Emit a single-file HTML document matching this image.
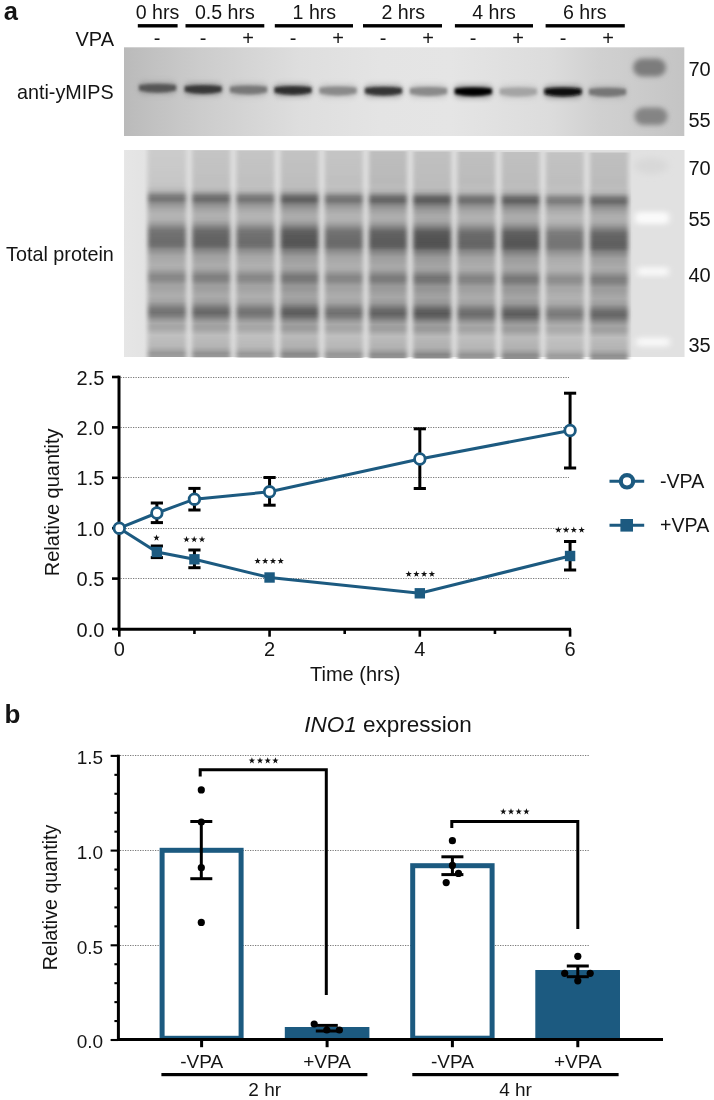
<!DOCTYPE html>
<html><head><meta charset="utf-8"><style>
html,body{margin:0;padding:0;background:#fff;}
svg{display:block;will-change:transform;}
text{font-family:"Liberation Sans",sans-serif;fill:#141414;}
</style></head><body>
<svg width="714" height="1100" viewBox="0 0 714 1100">
<defs><linearGradient id="g1" x1="124" x2="684" y1="0" y2="0" gradientUnits="userSpaceOnUse"><stop offset="0.0000" stop-color="#bababa"/><stop offset="0.0196" stop-color="#bdbdbd"/><stop offset="0.1357" stop-color="#cccccc"/><stop offset="0.3143" stop-color="#dedede"/><stop offset="0.4571" stop-color="#e4e4e4"/><stop offset="0.5821" stop-color="#e5e5e5"/><stop offset="0.7607" stop-color="#dcdcdc"/><stop offset="0.8500" stop-color="#d0d0d0"/><stop offset="0.8857" stop-color="#cecece"/><stop offset="1.0000" stop-color="#c4c4c4"/></linearGradient>
<filter id="bb1" x="-30%" y="-150%" width="160%" height="400%"><feGaussianBlur stdDeviation="1.6 1.8"/></filter>
<filter id="bb2" x="-30%" y="-150%" width="160%" height="400%"><feGaussianBlur stdDeviation="2.5 2.5"/></filter>
<filter id="bm" x="-80%" y="-150%" width="260%" height="400%"><feGaussianBlur stdDeviation="3.5 3"/></filter>
<linearGradient id="g2l" x1="124" x2="150" y1="0" y2="0" gradientUnits="userSpaceOnUse"><stop offset="0" stop-color="#e6e6e6"/><stop offset="0.8" stop-color="#e3e3e3"/><stop offset="1" stop-color="#dedede" stop-opacity="0"/></linearGradient>
<linearGradient id="g2bg" x1="0" x2="0" y1="150" y2="357" gradientUnits="userSpaceOnUse"><stop offset="0.0000" stop-color="#dedede"/><stop offset="0.0966" stop-color="#dedede"/><stop offset="0.1739" stop-color="#dedede"/><stop offset="0.1932" stop-color="#dbdbdb"/><stop offset="0.2077" stop-color="#d9d9d9"/><stop offset="0.2198" stop-color="#d7d7d7"/><stop offset="0.2333" stop-color="#d6d6d6"/><stop offset="0.2425" stop-color="#d6d6d6"/><stop offset="0.2531" stop-color="#d7d7d7"/><stop offset="0.2657" stop-color="#d8d8d8"/><stop offset="0.2850" stop-color="#dadada"/><stop offset="0.3058" stop-color="#dadada"/><stop offset="0.3188" stop-color="#dbdbdb"/><stop offset="0.3362" stop-color="#dadada"/><stop offset="0.3541" stop-color="#d9d9d9"/><stop offset="0.3715" stop-color="#d7d7d7"/><stop offset="0.3889" stop-color="#d6d6d6"/><stop offset="0.4068" stop-color="#d5d5d5"/><stop offset="0.4242" stop-color="#d5d5d5"/><stop offset="0.4420" stop-color="#d5d5d5"/><stop offset="0.4589" stop-color="#d5d5d5"/><stop offset="0.4686" stop-color="#d6d6d6"/><stop offset="0.4768" stop-color="#d7d7d7"/><stop offset="0.4947" stop-color="#d8d8d8"/><stop offset="0.5121" stop-color="#dadada"/><stop offset="0.5295" stop-color="#dadada"/><stop offset="0.5556" stop-color="#dadada"/><stop offset="0.5734" stop-color="#dadada"/><stop offset="0.5913" stop-color="#d8d8d8"/><stop offset="0.6087" stop-color="#d7d7d7"/><stop offset="0.6261" stop-color="#d7d7d7"/><stop offset="0.6353" stop-color="#d8d8d8"/><stop offset="0.6522" stop-color="#d9d9d9"/><stop offset="0.6700" stop-color="#d9d9d9"/><stop offset="0.6879" stop-color="#dadada"/><stop offset="0.7053" stop-color="#dadada"/><stop offset="0.7319" stop-color="#d9d9d9"/><stop offset="0.7488" stop-color="#d8d8d8"/><stop offset="0.7667" stop-color="#d6d6d6"/><stop offset="0.7845" stop-color="#d5d5d5"/><stop offset="0.8019" stop-color="#d6d6d6"/><stop offset="0.8193" stop-color="#d8d8d8"/><stop offset="0.8372" stop-color="#dadada"/><stop offset="0.8502" stop-color="#dadada"/><stop offset="0.8633" stop-color="#dadada"/><stop offset="0.8947" stop-color="#dcdcdc"/><stop offset="0.9208" stop-color="#dbdbdb"/><stop offset="0.9469" stop-color="#dbdbdb"/><stop offset="0.9671" stop-color="#dadada"/><stop offset="0.9802" stop-color="#d8d8d8"/><stop offset="1.0000" stop-color="#d9d9d9"/></linearGradient>
<filter id="lb" x="-20%" y="-5%" width="140%" height="110%"><feGaussianBlur stdDeviation="2.0 0.5"/></filter>
<linearGradient id="lg0" x1="0" x2="0" y1="150" y2="357" gradientUnits="userSpaceOnUse"><stop offset="0.0000" stop-color="#cccccc"/><stop offset="0.0483" stop-color="#cacaca"/><stop offset="0.0966" stop-color="#c9c9c9"/><stop offset="0.1449" stop-color="#c7c7c7"/><stop offset="0.1739" stop-color="#c4c4c4"/><stop offset="0.1932" stop-color="#b8b8b8"/><stop offset="0.2077" stop-color="#9e9e9e"/><stop offset="0.2198" stop-color="#828282"/><stop offset="0.2333" stop-color="#767676"/><stop offset="0.2425" stop-color="#787878"/><stop offset="0.2531" stop-color="#888888"/><stop offset="0.2657" stop-color="#989898"/><stop offset="0.2850" stop-color="#a8a8a8"/><stop offset="0.3058" stop-color="#b2b2b2"/><stop offset="0.3188" stop-color="#b4b4b4"/><stop offset="0.3362" stop-color="#b0b0b0"/><stop offset="0.3541" stop-color="#a0a0a0"/><stop offset="0.3715" stop-color="#8a8a8a"/><stop offset="0.3889" stop-color="#767676"/><stop offset="0.4068" stop-color="#707070"/><stop offset="0.4242" stop-color="#6e6e6e"/><stop offset="0.4420" stop-color="#6c6c6c"/><stop offset="0.4589" stop-color="#707070"/><stop offset="0.4686" stop-color="#7a7a7a"/><stop offset="0.4768" stop-color="#888888"/><stop offset="0.4947" stop-color="#989898"/><stop offset="0.5121" stop-color="#a6a6a6"/><stop offset="0.5295" stop-color="#aaaaaa"/><stop offset="0.5556" stop-color="#b0b0b0"/><stop offset="0.5734" stop-color="#aaaaaa"/><stop offset="0.5913" stop-color="#989898"/><stop offset="0.6087" stop-color="#888888"/><stop offset="0.6261" stop-color="#8a8a8a"/><stop offset="0.6353" stop-color="#929292"/><stop offset="0.6522" stop-color="#a2a2a2"/><stop offset="0.6700" stop-color="#a4a4a4"/><stop offset="0.6879" stop-color="#aaaaaa"/><stop offset="0.7053" stop-color="#aeaeae"/><stop offset="0.7319" stop-color="#a4a4a4"/><stop offset="0.7488" stop-color="#909090"/><stop offset="0.7667" stop-color="#7a7a7a"/><stop offset="0.7845" stop-color="#727272"/><stop offset="0.8019" stop-color="#808080"/><stop offset="0.8193" stop-color="#989898"/><stop offset="0.8372" stop-color="#aaaaaa"/><stop offset="0.8502" stop-color="#a6a6a6"/><stop offset="0.8633" stop-color="#a8a8a8"/><stop offset="0.8947" stop-color="#c0c0c0"/><stop offset="0.9208" stop-color="#bcbcbc"/><stop offset="0.9469" stop-color="#b8b8b8"/><stop offset="0.9671" stop-color="#a8a8a8"/><stop offset="0.9802" stop-color="#989898"/><stop offset="1.0000" stop-color="#9e9e9e"/></linearGradient>
<linearGradient id="lg1" x1="0" x2="0" y1="150" y2="357" gradientUnits="userSpaceOnUse"><stop offset="0.0000" stop-color="#c5c5c5"/><stop offset="0.0483" stop-color="#c3c3c3"/><stop offset="0.0966" stop-color="#c2c2c2"/><stop offset="0.1449" stop-color="#c0c0c0"/><stop offset="0.1739" stop-color="#c0c0c0"/><stop offset="0.1932" stop-color="#b5b5b5"/><stop offset="0.2077" stop-color="#989898"/><stop offset="0.2198" stop-color="#7a7a7a"/><stop offset="0.2333" stop-color="#6d6d6d"/><stop offset="0.2425" stop-color="#6f6f6f"/><stop offset="0.2531" stop-color="#808080"/><stop offset="0.2657" stop-color="#929292"/><stop offset="0.2850" stop-color="#a3a3a3"/><stop offset="0.3058" stop-color="#aeaeae"/><stop offset="0.3188" stop-color="#b0b0b0"/><stop offset="0.3362" stop-color="#acacac"/><stop offset="0.3541" stop-color="#9a9a9a"/><stop offset="0.3715" stop-color="#828282"/><stop offset="0.3889" stop-color="#6d6d6d"/><stop offset="0.4068" stop-color="#666666"/><stop offset="0.4242" stop-color="#646464"/><stop offset="0.4420" stop-color="#626262"/><stop offset="0.4589" stop-color="#666666"/><stop offset="0.4686" stop-color="#717171"/><stop offset="0.4768" stop-color="#808080"/><stop offset="0.4947" stop-color="#929292"/><stop offset="0.5121" stop-color="#a1a1a1"/><stop offset="0.5295" stop-color="#a5a5a5"/><stop offset="0.5556" stop-color="#acacac"/><stop offset="0.5734" stop-color="#a5a5a5"/><stop offset="0.5913" stop-color="#929292"/><stop offset="0.6087" stop-color="#808080"/><stop offset="0.6261" stop-color="#828282"/><stop offset="0.6353" stop-color="#8b8b8b"/><stop offset="0.6522" stop-color="#9d9d9d"/><stop offset="0.6700" stop-color="#9f9f9f"/><stop offset="0.6879" stop-color="#a5a5a5"/><stop offset="0.7053" stop-color="#aaaaaa"/><stop offset="0.7319" stop-color="#9f9f9f"/><stop offset="0.7488" stop-color="#898989"/><stop offset="0.7667" stop-color="#717171"/><stop offset="0.7845" stop-color="#686868"/><stop offset="0.8019" stop-color="#787878"/><stop offset="0.8193" stop-color="#929292"/><stop offset="0.8372" stop-color="#a5a5a5"/><stop offset="0.8502" stop-color="#a1a1a1"/><stop offset="0.8633" stop-color="#a3a3a3"/><stop offset="0.8947" stop-color="#bdbdbd"/><stop offset="0.9208" stop-color="#b9b9b9"/><stop offset="0.9469" stop-color="#b5b5b5"/><stop offset="0.9671" stop-color="#a3a3a3"/><stop offset="0.9802" stop-color="#929292"/><stop offset="1.0000" stop-color="#989898"/></linearGradient>
<linearGradient id="lg2" x1="0" x2="0" y1="150" y2="357" gradientUnits="userSpaceOnUse"><stop offset="0.0000" stop-color="#c5c5c5"/><stop offset="0.0483" stop-color="#c3c3c3"/><stop offset="0.0966" stop-color="#c2c2c2"/><stop offset="0.1449" stop-color="#c0c0c0"/><stop offset="0.1739" stop-color="#c1c1c1"/><stop offset="0.1932" stop-color="#b8b8b8"/><stop offset="0.2077" stop-color="#9e9e9e"/><stop offset="0.2198" stop-color="#828282"/><stop offset="0.2333" stop-color="#767676"/><stop offset="0.2425" stop-color="#787878"/><stop offset="0.2531" stop-color="#888888"/><stop offset="0.2657" stop-color="#989898"/><stop offset="0.2850" stop-color="#a8a8a8"/><stop offset="0.3058" stop-color="#b2b2b2"/><stop offset="0.3188" stop-color="#b4b4b4"/><stop offset="0.3362" stop-color="#b0b0b0"/><stop offset="0.3541" stop-color="#a0a0a0"/><stop offset="0.3715" stop-color="#8a8a8a"/><stop offset="0.3889" stop-color="#767676"/><stop offset="0.4068" stop-color="#707070"/><stop offset="0.4242" stop-color="#6e6e6e"/><stop offset="0.4420" stop-color="#6c6c6c"/><stop offset="0.4589" stop-color="#707070"/><stop offset="0.4686" stop-color="#7a7a7a"/><stop offset="0.4768" stop-color="#888888"/><stop offset="0.4947" stop-color="#989898"/><stop offset="0.5121" stop-color="#a6a6a6"/><stop offset="0.5295" stop-color="#aaaaaa"/><stop offset="0.5556" stop-color="#b0b0b0"/><stop offset="0.5734" stop-color="#aaaaaa"/><stop offset="0.5913" stop-color="#989898"/><stop offset="0.6087" stop-color="#888888"/><stop offset="0.6261" stop-color="#8a8a8a"/><stop offset="0.6353" stop-color="#929292"/><stop offset="0.6522" stop-color="#a2a2a2"/><stop offset="0.6700" stop-color="#a4a4a4"/><stop offset="0.6879" stop-color="#aaaaaa"/><stop offset="0.7053" stop-color="#aeaeae"/><stop offset="0.7319" stop-color="#a4a4a4"/><stop offset="0.7488" stop-color="#909090"/><stop offset="0.7667" stop-color="#7a7a7a"/><stop offset="0.7845" stop-color="#727272"/><stop offset="0.8019" stop-color="#808080"/><stop offset="0.8193" stop-color="#989898"/><stop offset="0.8372" stop-color="#aaaaaa"/><stop offset="0.8502" stop-color="#a6a6a6"/><stop offset="0.8633" stop-color="#a8a8a8"/><stop offset="0.8947" stop-color="#c0c0c0"/><stop offset="0.9208" stop-color="#bcbcbc"/><stop offset="0.9469" stop-color="#b8b8b8"/><stop offset="0.9671" stop-color="#a8a8a8"/><stop offset="0.9802" stop-color="#989898"/><stop offset="1.0000" stop-color="#9e9e9e"/></linearGradient>
<linearGradient id="lg3" x1="0" x2="0" y1="150" y2="357" gradientUnits="userSpaceOnUse"><stop offset="0.0000" stop-color="#c3c3c3"/><stop offset="0.0483" stop-color="#c1c1c1"/><stop offset="0.0966" stop-color="#c0c0c0"/><stop offset="0.1449" stop-color="#bebebe"/><stop offset="0.1739" stop-color="#bdbdbd"/><stop offset="0.1932" stop-color="#b0b0b0"/><stop offset="0.2077" stop-color="#919191"/><stop offset="0.2198" stop-color="#707070"/><stop offset="0.2333" stop-color="#616161"/><stop offset="0.2425" stop-color="#646464"/><stop offset="0.2531" stop-color="#777777"/><stop offset="0.2657" stop-color="#8a8a8a"/><stop offset="0.2850" stop-color="#9d9d9d"/><stop offset="0.3058" stop-color="#a9a9a9"/><stop offset="0.3188" stop-color="#acacac"/><stop offset="0.3362" stop-color="#a7a7a7"/><stop offset="0.3541" stop-color="#949494"/><stop offset="0.3715" stop-color="#797979"/><stop offset="0.3889" stop-color="#616161"/><stop offset="0.4068" stop-color="#5a5a5a"/><stop offset="0.4242" stop-color="#585858"/><stop offset="0.4420" stop-color="#555555"/><stop offset="0.4589" stop-color="#5a5a5a"/><stop offset="0.4686" stop-color="#666666"/><stop offset="0.4768" stop-color="#777777"/><stop offset="0.4947" stop-color="#8a8a8a"/><stop offset="0.5121" stop-color="#9b9b9b"/><stop offset="0.5295" stop-color="#a0a0a0"/><stop offset="0.5556" stop-color="#a7a7a7"/><stop offset="0.5734" stop-color="#a0a0a0"/><stop offset="0.5913" stop-color="#8a8a8a"/><stop offset="0.6087" stop-color="#777777"/><stop offset="0.6261" stop-color="#797979"/><stop offset="0.6353" stop-color="#838383"/><stop offset="0.6522" stop-color="#969696"/><stop offset="0.6700" stop-color="#989898"/><stop offset="0.6879" stop-color="#a0a0a0"/><stop offset="0.7053" stop-color="#a4a4a4"/><stop offset="0.7319" stop-color="#989898"/><stop offset="0.7488" stop-color="#808080"/><stop offset="0.7667" stop-color="#666666"/><stop offset="0.7845" stop-color="#5c5c5c"/><stop offset="0.8019" stop-color="#6d6d6d"/><stop offset="0.8193" stop-color="#8a8a8a"/><stop offset="0.8372" stop-color="#a0a0a0"/><stop offset="0.8502" stop-color="#9b9b9b"/><stop offset="0.8633" stop-color="#9d9d9d"/><stop offset="0.8947" stop-color="#bababa"/><stop offset="0.9208" stop-color="#b5b5b5"/><stop offset="0.9469" stop-color="#b0b0b0"/><stop offset="0.9671" stop-color="#9d9d9d"/><stop offset="0.9802" stop-color="#8a8a8a"/><stop offset="1.0000" stop-color="#919191"/></linearGradient>
<linearGradient id="lg4" x1="0" x2="0" y1="150" y2="357" gradientUnits="userSpaceOnUse"><stop offset="0.0000" stop-color="#c5c5c5"/><stop offset="0.0483" stop-color="#c3c3c3"/><stop offset="0.0966" stop-color="#c2c2c2"/><stop offset="0.1449" stop-color="#c0c0c0"/><stop offset="0.1739" stop-color="#c1c1c1"/><stop offset="0.1932" stop-color="#b7b7b7"/><stop offset="0.2077" stop-color="#9d9d9d"/><stop offset="0.2198" stop-color="#808080"/><stop offset="0.2333" stop-color="#747474"/><stop offset="0.2425" stop-color="#767676"/><stop offset="0.2531" stop-color="#868686"/><stop offset="0.2657" stop-color="#979797"/><stop offset="0.2850" stop-color="#a7a7a7"/><stop offset="0.3058" stop-color="#b1b1b1"/><stop offset="0.3188" stop-color="#b3b3b3"/><stop offset="0.3362" stop-color="#afafaf"/><stop offset="0.3541" stop-color="#9f9f9f"/><stop offset="0.3715" stop-color="#888888"/><stop offset="0.3889" stop-color="#747474"/><stop offset="0.4068" stop-color="#6e6e6e"/><stop offset="0.4242" stop-color="#6c6c6c"/><stop offset="0.4420" stop-color="#6a6a6a"/><stop offset="0.4589" stop-color="#6e6e6e"/><stop offset="0.4686" stop-color="#787878"/><stop offset="0.4768" stop-color="#868686"/><stop offset="0.4947" stop-color="#979797"/><stop offset="0.5121" stop-color="#a5a5a5"/><stop offset="0.5295" stop-color="#a9a9a9"/><stop offset="0.5556" stop-color="#afafaf"/><stop offset="0.5734" stop-color="#a9a9a9"/><stop offset="0.5913" stop-color="#979797"/><stop offset="0.6087" stop-color="#868686"/><stop offset="0.6261" stop-color="#888888"/><stop offset="0.6353" stop-color="#909090"/><stop offset="0.6522" stop-color="#a1a1a1"/><stop offset="0.6700" stop-color="#a3a3a3"/><stop offset="0.6879" stop-color="#a9a9a9"/><stop offset="0.7053" stop-color="#adadad"/><stop offset="0.7319" stop-color="#a3a3a3"/><stop offset="0.7488" stop-color="#8e8e8e"/><stop offset="0.7667" stop-color="#787878"/><stop offset="0.7845" stop-color="#707070"/><stop offset="0.8019" stop-color="#7e7e7e"/><stop offset="0.8193" stop-color="#979797"/><stop offset="0.8372" stop-color="#a9a9a9"/><stop offset="0.8502" stop-color="#a5a5a5"/><stop offset="0.8633" stop-color="#a7a7a7"/><stop offset="0.8947" stop-color="#bfbfbf"/><stop offset="0.9208" stop-color="#bbbbbb"/><stop offset="0.9469" stop-color="#b7b7b7"/><stop offset="0.9671" stop-color="#a7a7a7"/><stop offset="0.9802" stop-color="#979797"/><stop offset="1.0000" stop-color="#9d9d9d"/></linearGradient>
<linearGradient id="lg5" x1="0" x2="0" y1="150" y2="357" gradientUnits="userSpaceOnUse"><stop offset="0.0000" stop-color="#bebebe"/><stop offset="0.0483" stop-color="#bcbcbc"/><stop offset="0.0966" stop-color="#bbbbbb"/><stop offset="0.1449" stop-color="#b9b9b9"/><stop offset="0.1739" stop-color="#bcbcbc"/><stop offset="0.1932" stop-color="#b2b2b2"/><stop offset="0.2077" stop-color="#949494"/><stop offset="0.2198" stop-color="#747474"/><stop offset="0.2333" stop-color="#666666"/><stop offset="0.2425" stop-color="#696969"/><stop offset="0.2531" stop-color="#7b7b7b"/><stop offset="0.2657" stop-color="#8e8e8e"/><stop offset="0.2850" stop-color="#a0a0a0"/><stop offset="0.3058" stop-color="#ababab"/><stop offset="0.3188" stop-color="#aeaeae"/><stop offset="0.3362" stop-color="#a9a9a9"/><stop offset="0.3541" stop-color="#979797"/><stop offset="0.3715" stop-color="#7d7d7d"/><stop offset="0.3889" stop-color="#666666"/><stop offset="0.4068" stop-color="#606060"/><stop offset="0.4242" stop-color="#5d5d5d"/><stop offset="0.4420" stop-color="#5b5b5b"/><stop offset="0.4589" stop-color="#606060"/><stop offset="0.4686" stop-color="#6b6b6b"/><stop offset="0.4768" stop-color="#7b7b7b"/><stop offset="0.4947" stop-color="#8e8e8e"/><stop offset="0.5121" stop-color="#9e9e9e"/><stop offset="0.5295" stop-color="#a2a2a2"/><stop offset="0.5556" stop-color="#a9a9a9"/><stop offset="0.5734" stop-color="#a2a2a2"/><stop offset="0.5913" stop-color="#8e8e8e"/><stop offset="0.6087" stop-color="#7b7b7b"/><stop offset="0.6261" stop-color="#7d7d7d"/><stop offset="0.6353" stop-color="#878787"/><stop offset="0.6522" stop-color="#999999"/><stop offset="0.6700" stop-color="#9b9b9b"/><stop offset="0.6879" stop-color="#a2a2a2"/><stop offset="0.7053" stop-color="#a7a7a7"/><stop offset="0.7319" stop-color="#9b9b9b"/><stop offset="0.7488" stop-color="#848484"/><stop offset="0.7667" stop-color="#6b6b6b"/><stop offset="0.7845" stop-color="#626262"/><stop offset="0.8019" stop-color="#727272"/><stop offset="0.8193" stop-color="#8e8e8e"/><stop offset="0.8372" stop-color="#a2a2a2"/><stop offset="0.8502" stop-color="#9e9e9e"/><stop offset="0.8633" stop-color="#a0a0a0"/><stop offset="0.8947" stop-color="#bcbcbc"/><stop offset="0.9208" stop-color="#b7b7b7"/><stop offset="0.9469" stop-color="#b2b2b2"/><stop offset="0.9671" stop-color="#a0a0a0"/><stop offset="0.9802" stop-color="#8e8e8e"/><stop offset="1.0000" stop-color="#949494"/></linearGradient>
<linearGradient id="lg6" x1="0" x2="0" y1="150" y2="357" gradientUnits="userSpaceOnUse"><stop offset="0.0000" stop-color="#c1c1c1"/><stop offset="0.0483" stop-color="#bfbfbf"/><stop offset="0.0966" stop-color="#bebebe"/><stop offset="0.1449" stop-color="#bcbcbc"/><stop offset="0.1739" stop-color="#bcbcbc"/><stop offset="0.1932" stop-color="#afafaf"/><stop offset="0.2077" stop-color="#8f8f8f"/><stop offset="0.2198" stop-color="#6c6c6c"/><stop offset="0.2333" stop-color="#5d5d5d"/><stop offset="0.2425" stop-color="#606060"/><stop offset="0.2531" stop-color="#737373"/><stop offset="0.2657" stop-color="#878787"/><stop offset="0.2850" stop-color="#9b9b9b"/><stop offset="0.3058" stop-color="#a7a7a7"/><stop offset="0.3188" stop-color="#aaaaaa"/><stop offset="0.3362" stop-color="#a5a5a5"/><stop offset="0.3541" stop-color="#919191"/><stop offset="0.3715" stop-color="#767676"/><stop offset="0.3889" stop-color="#5d5d5d"/><stop offset="0.4068" stop-color="#565656"/><stop offset="0.4242" stop-color="#535353"/><stop offset="0.4420" stop-color="#515151"/><stop offset="0.4589" stop-color="#565656"/><stop offset="0.4686" stop-color="#626262"/><stop offset="0.4768" stop-color="#737373"/><stop offset="0.4947" stop-color="#878787"/><stop offset="0.5121" stop-color="#999999"/><stop offset="0.5295" stop-color="#9e9e9e"/><stop offset="0.5556" stop-color="#a5a5a5"/><stop offset="0.5734" stop-color="#9e9e9e"/><stop offset="0.5913" stop-color="#878787"/><stop offset="0.6087" stop-color="#737373"/><stop offset="0.6261" stop-color="#767676"/><stop offset="0.6353" stop-color="#808080"/><stop offset="0.6522" stop-color="#949494"/><stop offset="0.6700" stop-color="#969696"/><stop offset="0.6879" stop-color="#9e9e9e"/><stop offset="0.7053" stop-color="#a2a2a2"/><stop offset="0.7319" stop-color="#969696"/><stop offset="0.7488" stop-color="#7d7d7d"/><stop offset="0.7667" stop-color="#626262"/><stop offset="0.7845" stop-color="#585858"/><stop offset="0.8019" stop-color="#696969"/><stop offset="0.8193" stop-color="#878787"/><stop offset="0.8372" stop-color="#9e9e9e"/><stop offset="0.8502" stop-color="#999999"/><stop offset="0.8633" stop-color="#9b9b9b"/><stop offset="0.8947" stop-color="#b9b9b9"/><stop offset="0.9208" stop-color="#b4b4b4"/><stop offset="0.9469" stop-color="#afafaf"/><stop offset="0.9671" stop-color="#9b9b9b"/><stop offset="0.9802" stop-color="#878787"/><stop offset="1.0000" stop-color="#8f8f8f"/></linearGradient>
<linearGradient id="lg7" x1="0" x2="0" y1="150" y2="357" gradientUnits="userSpaceOnUse"><stop offset="0.0000" stop-color="#c0c0c0"/><stop offset="0.0483" stop-color="#bebebe"/><stop offset="0.0966" stop-color="#bdbdbd"/><stop offset="0.1449" stop-color="#bbbbbb"/><stop offset="0.1739" stop-color="#bebebe"/><stop offset="0.1932" stop-color="#b6b6b6"/><stop offset="0.2077" stop-color="#9a9a9a"/><stop offset="0.2198" stop-color="#7c7c7c"/><stop offset="0.2333" stop-color="#707070"/><stop offset="0.2425" stop-color="#727272"/><stop offset="0.2531" stop-color="#838383"/><stop offset="0.2657" stop-color="#949494"/><stop offset="0.2850" stop-color="#a5a5a5"/><stop offset="0.3058" stop-color="#afafaf"/><stop offset="0.3188" stop-color="#b1b1b1"/><stop offset="0.3362" stop-color="#adadad"/><stop offset="0.3541" stop-color="#9c9c9c"/><stop offset="0.3715" stop-color="#858585"/><stop offset="0.3889" stop-color="#707070"/><stop offset="0.4068" stop-color="#696969"/><stop offset="0.4242" stop-color="#676767"/><stop offset="0.4420" stop-color="#656565"/><stop offset="0.4589" stop-color="#696969"/><stop offset="0.4686" stop-color="#747474"/><stop offset="0.4768" stop-color="#838383"/><stop offset="0.4947" stop-color="#949494"/><stop offset="0.5121" stop-color="#a3a3a3"/><stop offset="0.5295" stop-color="#a7a7a7"/><stop offset="0.5556" stop-color="#adadad"/><stop offset="0.5734" stop-color="#a7a7a7"/><stop offset="0.5913" stop-color="#949494"/><stop offset="0.6087" stop-color="#838383"/><stop offset="0.6261" stop-color="#858585"/><stop offset="0.6353" stop-color="#8d8d8d"/><stop offset="0.6522" stop-color="#9e9e9e"/><stop offset="0.6700" stop-color="#a1a1a1"/><stop offset="0.6879" stop-color="#a7a7a7"/><stop offset="0.7053" stop-color="#ababab"/><stop offset="0.7319" stop-color="#a1a1a1"/><stop offset="0.7488" stop-color="#8b8b8b"/><stop offset="0.7667" stop-color="#747474"/><stop offset="0.7845" stop-color="#6c6c6c"/><stop offset="0.8019" stop-color="#7a7a7a"/><stop offset="0.8193" stop-color="#949494"/><stop offset="0.8372" stop-color="#a7a7a7"/><stop offset="0.8502" stop-color="#a3a3a3"/><stop offset="0.8633" stop-color="#a5a5a5"/><stop offset="0.8947" stop-color="#bebebe"/><stop offset="0.9208" stop-color="#bababa"/><stop offset="0.9469" stop-color="#b6b6b6"/><stop offset="0.9671" stop-color="#a5a5a5"/><stop offset="0.9802" stop-color="#949494"/><stop offset="1.0000" stop-color="#9a9a9a"/></linearGradient>
<linearGradient id="lg8" x1="0" x2="0" y1="150" y2="357" gradientUnits="userSpaceOnUse"><stop offset="0.0000" stop-color="#c1c1c1"/><stop offset="0.0483" stop-color="#bfbfbf"/><stop offset="0.0966" stop-color="#bebebe"/><stop offset="0.1449" stop-color="#bcbcbc"/><stop offset="0.1739" stop-color="#bdbdbd"/><stop offset="0.1932" stop-color="#b1b1b1"/><stop offset="0.2077" stop-color="#929292"/><stop offset="0.2198" stop-color="#717171"/><stop offset="0.2333" stop-color="#626262"/><stop offset="0.2425" stop-color="#656565"/><stop offset="0.2531" stop-color="#787878"/><stop offset="0.2657" stop-color="#8b8b8b"/><stop offset="0.2850" stop-color="#9e9e9e"/><stop offset="0.3058" stop-color="#aaaaaa"/><stop offset="0.3188" stop-color="#acacac"/><stop offset="0.3362" stop-color="#a7a7a7"/><stop offset="0.3541" stop-color="#949494"/><stop offset="0.3715" stop-color="#7a7a7a"/><stop offset="0.3889" stop-color="#626262"/><stop offset="0.4068" stop-color="#5b5b5b"/><stop offset="0.4242" stop-color="#595959"/><stop offset="0.4420" stop-color="#565656"/><stop offset="0.4589" stop-color="#5b5b5b"/><stop offset="0.4686" stop-color="#676767"/><stop offset="0.4768" stop-color="#787878"/><stop offset="0.4947" stop-color="#8b8b8b"/><stop offset="0.5121" stop-color="#9b9b9b"/><stop offset="0.5295" stop-color="#a0a0a0"/><stop offset="0.5556" stop-color="#a7a7a7"/><stop offset="0.5734" stop-color="#a0a0a0"/><stop offset="0.5913" stop-color="#8b8b8b"/><stop offset="0.6087" stop-color="#787878"/><stop offset="0.6261" stop-color="#7a7a7a"/><stop offset="0.6353" stop-color="#848484"/><stop offset="0.6522" stop-color="#979797"/><stop offset="0.6700" stop-color="#999999"/><stop offset="0.6879" stop-color="#a0a0a0"/><stop offset="0.7053" stop-color="#a5a5a5"/><stop offset="0.7319" stop-color="#999999"/><stop offset="0.7488" stop-color="#818181"/><stop offset="0.7667" stop-color="#676767"/><stop offset="0.7845" stop-color="#5d5d5d"/><stop offset="0.8019" stop-color="#6e6e6e"/><stop offset="0.8193" stop-color="#8b8b8b"/><stop offset="0.8372" stop-color="#a0a0a0"/><stop offset="0.8502" stop-color="#9b9b9b"/><stop offset="0.8633" stop-color="#9e9e9e"/><stop offset="0.8947" stop-color="#bababa"/><stop offset="0.9208" stop-color="#b6b6b6"/><stop offset="0.9469" stop-color="#b1b1b1"/><stop offset="0.9671" stop-color="#9e9e9e"/><stop offset="0.9802" stop-color="#8b8b8b"/><stop offset="1.0000" stop-color="#929292"/></linearGradient>
<linearGradient id="lg9" x1="0" x2="0" y1="150" y2="357" gradientUnits="userSpaceOnUse"><stop offset="0.0000" stop-color="#c3c3c3"/><stop offset="0.0483" stop-color="#c1c1c1"/><stop offset="0.0966" stop-color="#c0c0c0"/><stop offset="0.1449" stop-color="#bebebe"/><stop offset="0.1739" stop-color="#c1c1c1"/><stop offset="0.1932" stop-color="#bbbbbb"/><stop offset="0.2077" stop-color="#a2a2a2"/><stop offset="0.2198" stop-color="#888888"/><stop offset="0.2333" stop-color="#7d7d7d"/><stop offset="0.2425" stop-color="#7f7f7f"/><stop offset="0.2531" stop-color="#8e8e8e"/><stop offset="0.2657" stop-color="#9d9d9d"/><stop offset="0.2850" stop-color="#acacac"/><stop offset="0.3058" stop-color="#b5b5b5"/><stop offset="0.3188" stop-color="#b7b7b7"/><stop offset="0.3362" stop-color="#b3b3b3"/><stop offset="0.3541" stop-color="#a4a4a4"/><stop offset="0.3715" stop-color="#909090"/><stop offset="0.3889" stop-color="#7d7d7d"/><stop offset="0.4068" stop-color="#787878"/><stop offset="0.4242" stop-color="#767676"/><stop offset="0.4420" stop-color="#747474"/><stop offset="0.4589" stop-color="#787878"/><stop offset="0.4686" stop-color="#818181"/><stop offset="0.4768" stop-color="#8e8e8e"/><stop offset="0.4947" stop-color="#9d9d9d"/><stop offset="0.5121" stop-color="#aaaaaa"/><stop offset="0.5295" stop-color="#aeaeae"/><stop offset="0.5556" stop-color="#b3b3b3"/><stop offset="0.5734" stop-color="#aeaeae"/><stop offset="0.5913" stop-color="#9d9d9d"/><stop offset="0.6087" stop-color="#8e8e8e"/><stop offset="0.6261" stop-color="#909090"/><stop offset="0.6353" stop-color="#979797"/><stop offset="0.6522" stop-color="#a6a6a6"/><stop offset="0.6700" stop-color="#a8a8a8"/><stop offset="0.6879" stop-color="#aeaeae"/><stop offset="0.7053" stop-color="#b1b1b1"/><stop offset="0.7319" stop-color="#a8a8a8"/><stop offset="0.7488" stop-color="#959595"/><stop offset="0.7667" stop-color="#818181"/><stop offset="0.7845" stop-color="#7a7a7a"/><stop offset="0.8019" stop-color="#878787"/><stop offset="0.8193" stop-color="#9d9d9d"/><stop offset="0.8372" stop-color="#aeaeae"/><stop offset="0.8502" stop-color="#aaaaaa"/><stop offset="0.8633" stop-color="#acacac"/><stop offset="0.8947" stop-color="#c2c2c2"/><stop offset="0.9208" stop-color="#bebebe"/><stop offset="0.9469" stop-color="#bbbbbb"/><stop offset="0.9671" stop-color="#acacac"/><stop offset="0.9802" stop-color="#9d9d9d"/><stop offset="1.0000" stop-color="#a2a2a2"/></linearGradient>
<linearGradient id="lg10" x1="0" x2="0" y1="150" y2="357" gradientUnits="userSpaceOnUse"><stop offset="0.0000" stop-color="#c0c0c0"/><stop offset="0.0483" stop-color="#bebebe"/><stop offset="0.0966" stop-color="#bdbdbd"/><stop offset="0.1449" stop-color="#bbbbbb"/><stop offset="0.1739" stop-color="#bdbdbd"/><stop offset="0.1932" stop-color="#b4b4b4"/><stop offset="0.2077" stop-color="#979797"/><stop offset="0.2198" stop-color="#787878"/><stop offset="0.2333" stop-color="#6b6b6b"/><stop offset="0.2425" stop-color="#6d6d6d"/><stop offset="0.2531" stop-color="#7f7f7f"/><stop offset="0.2657" stop-color="#909090"/><stop offset="0.2850" stop-color="#a2a2a2"/><stop offset="0.3058" stop-color="#adadad"/><stop offset="0.3188" stop-color="#afafaf"/><stop offset="0.3362" stop-color="#ababab"/><stop offset="0.3541" stop-color="#999999"/><stop offset="0.3715" stop-color="#818181"/><stop offset="0.3889" stop-color="#6b6b6b"/><stop offset="0.4068" stop-color="#646464"/><stop offset="0.4242" stop-color="#626262"/><stop offset="0.4420" stop-color="#5f5f5f"/><stop offset="0.4589" stop-color="#646464"/><stop offset="0.4686" stop-color="#6f6f6f"/><stop offset="0.4768" stop-color="#7f7f7f"/><stop offset="0.4947" stop-color="#909090"/><stop offset="0.5121" stop-color="#a0a0a0"/><stop offset="0.5295" stop-color="#a4a4a4"/><stop offset="0.5556" stop-color="#ababab"/><stop offset="0.5734" stop-color="#a4a4a4"/><stop offset="0.5913" stop-color="#909090"/><stop offset="0.6087" stop-color="#7f7f7f"/><stop offset="0.6261" stop-color="#818181"/><stop offset="0.6353" stop-color="#8a8a8a"/><stop offset="0.6522" stop-color="#9b9b9b"/><stop offset="0.6700" stop-color="#9e9e9e"/><stop offset="0.6879" stop-color="#a4a4a4"/><stop offset="0.7053" stop-color="#a9a9a9"/><stop offset="0.7319" stop-color="#9e9e9e"/><stop offset="0.7488" stop-color="#878787"/><stop offset="0.7667" stop-color="#6f6f6f"/><stop offset="0.7845" stop-color="#666666"/><stop offset="0.8019" stop-color="#767676"/><stop offset="0.8193" stop-color="#909090"/><stop offset="0.8372" stop-color="#a4a4a4"/><stop offset="0.8502" stop-color="#a0a0a0"/><stop offset="0.8633" stop-color="#a2a2a2"/><stop offset="0.8947" stop-color="#bdbdbd"/><stop offset="0.9208" stop-color="#b8b8b8"/><stop offset="0.9469" stop-color="#b4b4b4"/><stop offset="0.9671" stop-color="#a2a2a2"/><stop offset="0.9802" stop-color="#909090"/><stop offset="1.0000" stop-color="#979797"/></linearGradient>
<filter id="wb" x="-50%" y="-150%" width="200%" height="400%"><feGaussianBlur stdDeviation="3 2.6"/></filter></defs>
<text x="157.5" y="18.5" font-size="19.6" text-anchor="middle">0 hrs</text>
<rect x="137.8" y="24.1" width="39.79999999999998" height="3.4" fill="#000"/>
<text x="224.9" y="18.5" font-size="19.6" text-anchor="middle">0.5 hrs</text>
<rect x="185.5" y="24.1" width="78.80000000000001" height="3.4" fill="#000"/>
<text x="314.4" y="18.5" font-size="19.6" text-anchor="middle">1 hrs</text>
<rect x="274.8" y="24.1" width="78.19999999999999" height="3.4" fill="#000"/>
<text x="403.3" y="18.5" font-size="19.6" text-anchor="middle">2 hrs</text>
<rect x="363" y="24.1" width="79" height="3.4" fill="#000"/>
<text x="494" y="18.5" font-size="19.6" text-anchor="middle">4 hrs</text>
<rect x="454.9" y="24.1" width="78.10000000000002" height="3.4" fill="#000"/>
<text x="584.7" y="18.5" font-size="19.6" text-anchor="middle">6 hrs</text>
<rect x="545.6" y="24.1" width="79.19999999999993" height="3.4" fill="#000"/>
<text x="114" y="46" font-size="20" text-anchor="end">VPA</text>
<text x="157" y="45" font-size="20" text-anchor="middle">-</text>
<text x="203" y="45" font-size="20" text-anchor="middle">-</text>
<text x="248" y="45" font-size="20" text-anchor="middle">+</text>
<text x="293" y="45" font-size="20" text-anchor="middle">-</text>
<text x="338" y="45" font-size="20" text-anchor="middle">+</text>
<text x="383" y="45" font-size="20" text-anchor="middle">-</text>
<text x="428" y="45" font-size="20" text-anchor="middle">+</text>
<text x="473" y="45" font-size="20" text-anchor="middle">-</text>
<text x="518" y="45" font-size="20" text-anchor="middle">+</text>
<text x="563" y="45" font-size="20" text-anchor="middle">-</text>
<text x="608" y="45" font-size="20" text-anchor="middle">+</text>
<text x="3.7" y="20" font-size="25.5" font-weight="bold">a</text>
<text x="113.6" y="98.5" font-size="19.75" text-anchor="end">anti-yMIPS</text>
<text x="113.8" y="260.8" font-size="19.8" text-anchor="end">Total protein</text>
<text x="688.5" y="76.2" font-size="20">70</text>
<text x="688.5" y="126.9" font-size="20">55</text>
<text x="688.5" y="175" font-size="20">70</text>
<text x="688.5" y="226" font-size="20">55</text>
<text x="688.5" y="282" font-size="20">40</text>
<text x="688.5" y="352" font-size="20">35</text>
<rect x="124" y="47.3" width="560.3" height="88.7" fill="url(#g1)"/>
<rect x="138.1" y="81" width="39" height="14" rx="6" fill="#919191" opacity="0.5" filter="url(#bb2)"/>
<path d="M139.1,85 Q157.6,82.5 176.1,85 L176.1,90.5 Q157.6,95 139.1,90.5 Z" fill="#565656" filter="url(#bb1)"/>
<rect x="183.7" y="82.3" width="39" height="14" rx="6" fill="#828282" opacity="0.5" filter="url(#bb2)"/>
<path d="M184.7,86.3 Q203.2,83.8 221.7,86.3 L221.7,91.8 Q203.2,96.3 184.7,91.8 Z" fill="#383838" filter="url(#bb1)"/>
<rect x="229.0" y="82.8" width="39" height="14" rx="6" fill="#a2a2a2" opacity="0.5" filter="url(#bb2)"/>
<path d="M230.0,86.8 Q248.5,84.3 267.0,86.8 L267.0,92.3 Q248.5,96.8 230.0,92.3 Z" fill="#787878" filter="url(#bb1)"/>
<rect x="273.5" y="83.3" width="39" height="14" rx="6" fill="#7d7d7d" opacity="0.5" filter="url(#bb2)"/>
<path d="M274.5,87.3 Q293,84.8 311.5,87.3 L311.5,92.8 Q293,97.3 274.5,92.8 Z" fill="#2e2e2e" filter="url(#bb1)"/>
<rect x="318.5" y="83.7" width="39" height="14" rx="6" fill="#ababab" opacity="0.5" filter="url(#bb2)"/>
<path d="M319.5,87.7 Q338,85.2 356.5,87.7 L356.5,93.2 Q338,97.7 319.5,93.2 Z" fill="#8a8a8a" filter="url(#bb1)"/>
<rect x="364.0" y="84" width="39" height="14" rx="6" fill="#818181" opacity="0.5" filter="url(#bb2)"/>
<path d="M365.0,88 Q383.5,85.5 402.0,88 L402.0,93.5 Q383.5,98 365.0,93.5 Z" fill="#363636" filter="url(#bb1)"/>
<rect x="409.0" y="84.2" width="39" height="14" rx="6" fill="#ababab" opacity="0.5" filter="url(#bb2)"/>
<path d="M410.0,88.2 Q428.5,85.7 447.0,88.2 L447.0,93.7 Q428.5,98.2 410.0,93.7 Z" fill="#8a8a8a" filter="url(#bb1)"/>
<rect x="453.8" y="84.5" width="39" height="14" rx="6" fill="#686868" opacity="0.5" filter="url(#bb2)"/>
<path d="M454.8,88.5 Q473.3,86.0 491.8,88.5 L491.8,94.0 Q473.3,98.5 454.8,94.0 Z" fill="#040404" filter="url(#bb1)"/>
<rect x="498.79999999999995" y="84.7" width="39" height="14" rx="6" fill="#b8b8b8" opacity="0.5" filter="url(#bb2)"/>
<path d="M499.79999999999995,88.7 Q518.3,86.2 536.8,88.7 L536.8,94.2 Q518.3,98.7 499.79999999999995,94.2 Z" fill="#a4a4a4" filter="url(#bb1)"/>
<rect x="543.5" y="84.8" width="39" height="14" rx="6" fill="#6a6a6a" opacity="0.5" filter="url(#bb2)"/>
<path d="M544.5,88.8 Q563,86.3 581.5,88.8 L581.5,94.3 Q563,98.8 544.5,94.3 Z" fill="#080808" filter="url(#bb1)"/>
<rect x="588.0" y="85" width="39" height="14" rx="6" fill="#a1a1a1" opacity="0.5" filter="url(#bb2)"/>
<path d="M589.0,89 Q607.5,86.5 626.0,89 L626.0,94.5 Q607.5,99 589.0,94.5 Z" fill="#767676" filter="url(#bb1)"/>
<rect x="633" y="58.5" width="33" height="18" rx="9" fill="#7c7c7c" filter="url(#bb2)"/>
<rect x="634.5" y="107.5" width="33" height="17.5" rx="9" fill="#848484" filter="url(#bb2)"/>
<rect x="124.3" y="150" width="506.7" height="207" fill="url(#g2bg)"/>
<rect x="631" y="150" width="53.3" height="207" fill="#dedede"/>
<rect x="124.3" y="150" width="26" height="207" fill="url(#g2l)"/>
<rect x="631" y="150" width="53.3" height="207" fill="#e1e1e1"/>
<rect x="148.0" y="150" width="38" height="207" fill="url(#lg0)" filter="url(#lb)" transform="translate(0,0.00)"/>
<rect x="192.2" y="150" width="38" height="207" fill="url(#lg1)" filter="url(#lb)" transform="translate(0,0.25)"/>
<rect x="236.4" y="150" width="38" height="207" fill="url(#lg2)" filter="url(#lb)" transform="translate(0,0.50)"/>
<rect x="280.6" y="150" width="38" height="207" fill="url(#lg3)" filter="url(#lb)" transform="translate(0,0.75)"/>
<rect x="324.8" y="150" width="38" height="207" fill="url(#lg4)" filter="url(#lb)" transform="translate(0,1.00)"/>
<rect x="369.0" y="150" width="38" height="207" fill="url(#lg5)" filter="url(#lb)" transform="translate(0,1.25)"/>
<rect x="413.20000000000005" y="150" width="38" height="207" fill="url(#lg6)" filter="url(#lb)" transform="translate(0,1.50)"/>
<rect x="457.40000000000003" y="150" width="38" height="207" fill="url(#lg7)" filter="url(#lb)" transform="translate(0,1.75)"/>
<rect x="501.6" y="150" width="38" height="207" fill="url(#lg8)" filter="url(#lb)" transform="translate(0,2.00)"/>
<rect x="545.8" y="150" width="38" height="207" fill="url(#lg9)" filter="url(#lb)" transform="translate(0,2.25)"/>
<rect x="590.0" y="150" width="38" height="207" fill="url(#lg10)" filter="url(#lb)" transform="translate(0,2.50)"/>
<ellipse cx="651" cy="166" rx="17" ry="8" fill="#d8d8d8" filter="url(#bm)"/>
<rect x="635" y="212.0" width="34" height="12" rx="4" fill="#ffffff" opacity="0.85" filter="url(#wb)"/>
<rect x="637" y="267.0" width="32" height="9" rx="4" fill="#ffffff" opacity="0.75" filter="url(#wb)"/>
<rect x="636" y="337.5" width="34" height="9" rx="4" fill="#ffffff" opacity="0.75" filter="url(#wb)"/>
<line x1="120.5" y1="578.5" x2="569" y2="578.5" stroke="#7a7a7a" stroke-width="1" stroke-dasharray="1.25 1.25"/>
<line x1="120.5" y1="528.5" x2="569" y2="528.5" stroke="#7a7a7a" stroke-width="1" stroke-dasharray="1.25 1.25"/>
<line x1="120.5" y1="477.5" x2="569" y2="477.5" stroke="#7a7a7a" stroke-width="1" stroke-dasharray="1.25 1.25"/>
<line x1="120.5" y1="427.5" x2="569" y2="427.5" stroke="#7a7a7a" stroke-width="1" stroke-dasharray="1.25 1.25"/>
<line x1="120.5" y1="377.5" x2="569" y2="377.5" stroke="#7a7a7a" stroke-width="1" stroke-dasharray="1.25 1.25"/>
<line x1="119" y1="375.7" x2="119" y2="630.8" stroke="#000" stroke-width="3"/>
<line x1="117.5" y1="629.3" x2="571" y2="629.3" stroke="#000" stroke-width="3"/>
<line x1="112" y1="629.0" x2="119" y2="629.0" stroke="#000" stroke-width="2.6"/>
<text x="104.4" y="636.6" font-size="20" text-anchor="end">0.0</text>
<line x1="112" y1="578.6" x2="119" y2="578.6" stroke="#000" stroke-width="2.6"/>
<text x="104.4" y="586.2" font-size="20" text-anchor="end">0.5</text>
<line x1="112" y1="528.2" x2="119" y2="528.2" stroke="#000" stroke-width="2.6"/>
<text x="104.4" y="535.8000000000001" font-size="20" text-anchor="end">1.0</text>
<line x1="112" y1="477.8" x2="119" y2="477.8" stroke="#000" stroke-width="2.6"/>
<text x="104.4" y="485.40000000000003" font-size="20" text-anchor="end">1.5</text>
<line x1="112" y1="427.4" x2="119" y2="427.4" stroke="#000" stroke-width="2.6"/>
<text x="104.4" y="435.0" font-size="20" text-anchor="end">2.0</text>
<line x1="112" y1="377.0" x2="119" y2="377.0" stroke="#000" stroke-width="2.6"/>
<text x="104.4" y="384.6" font-size="20" text-anchor="end">2.5</text>
<line x1="119.3" y1="629" x2="119.3" y2="636.7" stroke="#000" stroke-width="2.6"/>
<line x1="194.43" y1="629" x2="194.43" y2="634" stroke="#000" stroke-width="2.6"/>
<line x1="269.56" y1="629" x2="269.56" y2="636.7" stroke="#000" stroke-width="2.6"/>
<line x1="344.69" y1="629" x2="344.69" y2="634" stroke="#000" stroke-width="2.6"/>
<line x1="419.82" y1="629" x2="419.82" y2="636.7" stroke="#000" stroke-width="2.6"/>
<line x1="494.95" y1="629" x2="494.95" y2="634" stroke="#000" stroke-width="2.6"/>
<line x1="570.0799999999999" y1="629" x2="570.0799999999999" y2="636.7" stroke="#000" stroke-width="2.6"/>
<text x="119.3" y="656.3" font-size="20" text-anchor="middle">0</text>
<text x="269.56" y="656.3" font-size="20" text-anchor="middle">2</text>
<text x="419.82" y="656.3" font-size="20" text-anchor="middle">4</text>
<text x="570.0799999999999" y="656.3" font-size="20" text-anchor="middle">6</text>
<text x="355.2" y="681" font-size="20" text-anchor="middle">Time (hrs)</text>
<text transform="translate(59,502.3) rotate(-90)" font-size="20" text-anchor="middle">Relative quantity</text>
<line x1="156.865" y1="503" x2="156.865" y2="522.6" stroke="#000" stroke-width="3"/>
<line x1="150.76500000000001" y1="503" x2="162.965" y2="503" stroke="#000" stroke-width="3"/>
<line x1="150.76500000000001" y1="522.6" x2="162.965" y2="522.6" stroke="#000" stroke-width="3"/>
<line x1="194.43" y1="488.4" x2="194.43" y2="510" stroke="#000" stroke-width="3"/>
<line x1="188.33" y1="488.4" x2="200.53" y2="488.4" stroke="#000" stroke-width="3"/>
<line x1="188.33" y1="510" x2="200.53" y2="510" stroke="#000" stroke-width="3"/>
<line x1="269.56" y1="477.5" x2="269.56" y2="505.2" stroke="#000" stroke-width="3"/>
<line x1="263.46" y1="477.5" x2="275.66" y2="477.5" stroke="#000" stroke-width="3"/>
<line x1="263.46" y1="505.2" x2="275.66" y2="505.2" stroke="#000" stroke-width="3"/>
<line x1="419.82" y1="428.8" x2="419.82" y2="488.5" stroke="#000" stroke-width="3"/>
<line x1="413.71999999999997" y1="428.8" x2="425.92" y2="428.8" stroke="#000" stroke-width="3"/>
<line x1="413.71999999999997" y1="488.5" x2="425.92" y2="488.5" stroke="#000" stroke-width="3"/>
<line x1="570.0799999999999" y1="393.2" x2="570.0799999999999" y2="468" stroke="#000" stroke-width="3"/>
<line x1="563.9799999999999" y1="393.2" x2="576.18" y2="393.2" stroke="#000" stroke-width="3"/>
<line x1="563.9799999999999" y1="468" x2="576.18" y2="468" stroke="#000" stroke-width="3"/>
<line x1="156.865" y1="546" x2="156.865" y2="557.6" stroke="#000" stroke-width="3"/>
<line x1="150.76500000000001" y1="546" x2="162.965" y2="546" stroke="#000" stroke-width="3"/>
<line x1="150.76500000000001" y1="557.6" x2="162.965" y2="557.6" stroke="#000" stroke-width="3"/>
<line x1="194.43" y1="550" x2="194.43" y2="567.7" stroke="#000" stroke-width="3"/>
<line x1="188.33" y1="550" x2="200.53" y2="550" stroke="#000" stroke-width="3"/>
<line x1="188.33" y1="567.7" x2="200.53" y2="567.7" stroke="#000" stroke-width="3"/>
<line x1="570.0799999999999" y1="541.5" x2="570.0799999999999" y2="570" stroke="#000" stroke-width="3"/>
<line x1="563.9799999999999" y1="541.5" x2="576.18" y2="541.5" stroke="#000" stroke-width="3"/>
<line x1="563.9799999999999" y1="570" x2="576.18" y2="570" stroke="#000" stroke-width="3"/>
<polyline points="119.3,528.2 156.865,552 194.43,559.3 269.56,577.5 419.82,593.3 570.0799999999999,556" fill="none" stroke="#1c5a80" stroke-width="3"/>
<polyline points="119.3,528.2 156.865,513 194.43,499.2 269.56,491.8 419.82,459 570.0799999999999,430.5" fill="none" stroke="#1c5a80" stroke-width="3"/>
<rect x="151.66500000000002" y="546.8" width="10.4" height="10.4" fill="#1c5a80"/>
<rect x="189.23000000000002" y="554.0999999999999" width="10.4" height="10.4" fill="#1c5a80"/>
<rect x="264.36" y="572.3" width="10.4" height="10.4" fill="#1c5a80"/>
<rect x="414.62" y="588.0999999999999" width="10.4" height="10.4" fill="#1c5a80"/>
<rect x="564.8799999999999" y="550.8" width="10.4" height="10.4" fill="#1c5a80"/>
<circle cx="119.3" cy="528.2" r="5.3" fill="#fff" stroke="#1c5a80" stroke-width="2.8"/>
<circle cx="156.865" cy="513" r="5.3" fill="#fff" stroke="#1c5a80" stroke-width="2.8"/>
<circle cx="194.43" cy="499.2" r="5.3" fill="#fff" stroke="#1c5a80" stroke-width="2.8"/>
<circle cx="269.56" cy="491.8" r="5.3" fill="#fff" stroke="#1c5a80" stroke-width="2.8"/>
<circle cx="419.82" cy="459" r="5.3" fill="#fff" stroke="#1c5a80" stroke-width="2.8"/>
<circle cx="570.0799999999999" cy="430.5" r="5.3" fill="#fff" stroke="#1c5a80" stroke-width="2.8"/>
<polygon points="156.50,534.50 157.30,536.80 159.73,536.85 157.79,538.32 158.50,540.65 156.50,539.26 154.50,540.65 155.21,538.32 153.27,536.85 155.70,536.80" fill="#111"/>
<polygon points="186.50,536.10 187.30,538.40 189.73,538.45 187.79,539.92 188.50,542.25 186.50,540.86 184.50,542.25 185.21,539.92 183.27,538.45 185.70,538.40" fill="#111"/>
<polygon points="194.20,536.10 195.00,538.40 197.43,538.45 195.49,539.92 196.20,542.25 194.20,540.86 192.20,542.25 192.91,539.92 190.97,538.45 193.40,538.40" fill="#111"/>
<polygon points="202.00,536.10 202.80,538.40 205.23,538.45 203.29,539.92 204.00,542.25 202.00,540.86 200.00,542.25 200.71,539.92 198.77,538.45 201.20,538.40" fill="#111"/>
<polygon points="257.60,557.70 258.40,560.00 260.83,560.05 258.89,561.52 259.60,563.85 257.60,562.46 255.60,563.85 256.31,561.52 254.37,560.05 256.80,560.00" fill="#111"/>
<polygon points="265.20,557.70 266.00,560.00 268.43,560.05 266.49,561.52 267.20,563.85 265.20,562.46 263.20,563.85 263.91,561.52 261.97,560.05 264.40,560.00" fill="#111"/>
<polygon points="273.00,557.70 273.80,560.00 276.23,560.05 274.29,561.52 275.00,563.85 273.00,562.46 271.00,563.85 271.71,561.52 269.77,560.05 272.20,560.00" fill="#111"/>
<polygon points="280.70,557.70 281.50,560.00 283.93,560.05 281.99,561.52 282.70,563.85 280.70,562.46 278.70,563.85 279.41,561.52 277.47,560.05 279.90,560.00" fill="#111"/>
<polygon points="408.70,570.70 409.50,573.00 411.93,573.05 409.99,574.52 410.70,576.85 408.70,575.46 406.70,576.85 407.41,574.52 405.47,573.05 407.90,573.00" fill="#111"/>
<polygon points="416.40,570.70 417.20,573.00 419.63,573.05 417.69,574.52 418.40,576.85 416.40,575.46 414.40,576.85 415.11,574.52 413.17,573.05 415.60,573.00" fill="#111"/>
<polygon points="424.10,570.70 424.90,573.00 427.33,573.05 425.39,574.52 426.10,576.85 424.10,575.46 422.10,576.85 422.81,574.52 420.87,573.05 423.30,573.00" fill="#111"/>
<polygon points="431.90,570.70 432.70,573.00 435.13,573.05 433.19,574.52 433.90,576.85 431.90,575.46 429.90,576.85 430.61,574.52 428.67,573.05 431.10,573.00" fill="#111"/>
<polygon points="558.30,526.60 559.10,528.90 561.53,528.95 559.59,530.42 560.30,532.75 558.30,531.36 556.30,532.75 557.01,530.42 555.07,528.95 557.50,528.90" fill="#111"/>
<polygon points="566.10,526.60 566.90,528.90 569.33,528.95 567.39,530.42 568.10,532.75 566.10,531.36 564.10,532.75 564.81,530.42 562.87,528.95 565.30,528.90" fill="#111"/>
<polygon points="573.80,526.60 574.60,528.90 577.03,528.95 575.09,530.42 575.80,532.75 573.80,531.36 571.80,532.75 572.51,530.42 570.57,528.95 573.00,528.90" fill="#111"/>
<polygon points="581.65,526.60 582.45,528.90 584.88,528.95 582.94,530.42 583.65,532.75 581.65,531.36 579.65,532.75 580.36,530.42 578.42,528.95 580.85,528.90" fill="#111"/>
<line x1="609.5" y1="481.3" x2="644.2" y2="481.3" stroke="#1c5a80" stroke-width="3.1"/>
<circle cx="627" cy="481.3" r="6.2" fill="#fff" stroke="#1c5a80" stroke-width="4.2"/>
<text x="660" y="488" font-size="19.6">-VPA</text>
<line x1="609.5" y1="525.2" x2="644.2" y2="525.2" stroke="#1c5a80" stroke-width="3.1"/>
<rect x="620.4" y="519" width="12.6" height="12.6" fill="#1c5a80"/>
<text x="660" y="532" font-size="19.6">+VPA</text>
<text x="4.5" y="722.8" font-size="26" font-weight="bold">b</text>
<text x="388" y="732.4" font-size="22.5" text-anchor="middle"><tspan font-style="italic">INO1</tspan> expression</text>
<line x1="120" y1="945.5" x2="590" y2="945.5" stroke="#7a7a7a" stroke-width="1" stroke-dasharray="1.25 1.25"/>
<line x1="120" y1="850.5" x2="590" y2="850.5" stroke="#7a7a7a" stroke-width="1" stroke-dasharray="1.25 1.25"/>
<line x1="120" y1="755.5" x2="590" y2="755.5" stroke="#7a7a7a" stroke-width="1" stroke-dasharray="1.25 1.25"/>
<line x1="118.4" y1="754.8" x2="118.4" y2="1041" stroke="#000" stroke-width="3"/>
<line x1="110.6" y1="1040.0" x2="118.5" y2="1040.0" stroke="#000" stroke-width="2.1"/>
<line x1="114.4" y1="1021.06" x2="118.5" y2="1021.06" stroke="#000" stroke-width="2.1"/>
<line x1="114.4" y1="1002.12" x2="118.5" y2="1002.12" stroke="#000" stroke-width="2.1"/>
<line x1="114.4" y1="983.18" x2="118.5" y2="983.18" stroke="#000" stroke-width="2.1"/>
<line x1="114.4" y1="964.24" x2="118.5" y2="964.24" stroke="#000" stroke-width="2.1"/>
<line x1="110.6" y1="945.3" x2="118.5" y2="945.3" stroke="#000" stroke-width="2.1"/>
<line x1="114.4" y1="926.36" x2="118.5" y2="926.36" stroke="#000" stroke-width="2.1"/>
<line x1="114.4" y1="907.42" x2="118.5" y2="907.42" stroke="#000" stroke-width="2.1"/>
<line x1="114.4" y1="888.48" x2="118.5" y2="888.48" stroke="#000" stroke-width="2.1"/>
<line x1="114.4" y1="869.54" x2="118.5" y2="869.54" stroke="#000" stroke-width="2.1"/>
<line x1="110.6" y1="850.6" x2="118.5" y2="850.6" stroke="#000" stroke-width="2.1"/>
<line x1="114.4" y1="831.66" x2="118.5" y2="831.66" stroke="#000" stroke-width="2.1"/>
<line x1="114.4" y1="812.72" x2="118.5" y2="812.72" stroke="#000" stroke-width="2.1"/>
<line x1="114.4" y1="793.78" x2="118.5" y2="793.78" stroke="#000" stroke-width="2.1"/>
<line x1="114.4" y1="774.8399999999999" x2="118.5" y2="774.8399999999999" stroke="#000" stroke-width="2.1"/>
<line x1="110.6" y1="755.9" x2="118.5" y2="755.9" stroke="#000" stroke-width="2.1"/>
<text x="103.2" y="1048.2" font-size="19" text-anchor="end">0.0</text>
<text x="103.2" y="953.5" font-size="19" text-anchor="end">0.5</text>
<text x="103.2" y="858.8000000000001" font-size="19" text-anchor="end">1.0</text>
<text x="103.2" y="764.1" font-size="19" text-anchor="end">1.5</text>
<text transform="translate(57,897.4) rotate(-90)" font-size="19.7" text-anchor="middle">Relative quantity</text>
<rect x="162.1" y="850.3" width="79" height="188" fill="#fff" stroke="#1c5a80" stroke-width="5"/>
<rect x="284.8" y="1027" width="84.6" height="13" fill="#1c5a80"/>
<rect x="412.7" y="865.7" width="79.4" height="172.5" fill="#fff" stroke="#1c5a80" stroke-width="5"/>
<rect x="535.3" y="970" width="84.7" height="70" fill="#1c5a80"/>
<line x1="117" y1="1039.5" x2="663" y2="1039.5" stroke="#000" stroke-width="3"/>
<line x1="201.6" y1="1039" x2="201.6" y2="1047.2" stroke="#000" stroke-width="3"/>
<text x="201.6" y="1067.5" font-size="19" text-anchor="middle">-VPA</text>
<line x1="327.1" y1="1039" x2="327.1" y2="1047.2" stroke="#000" stroke-width="3"/>
<text x="327.1" y="1067.5" font-size="19" text-anchor="middle">+VPA</text>
<line x1="452.4" y1="1039" x2="452.4" y2="1047.2" stroke="#000" stroke-width="3"/>
<text x="452.4" y="1067.5" font-size="19" text-anchor="middle">-VPA</text>
<line x1="577.8" y1="1039" x2="577.8" y2="1047.2" stroke="#000" stroke-width="3"/>
<text x="577.8" y="1067.5" font-size="19" text-anchor="middle">+VPA</text>
<rect x="161.4" y="1073" width="206" height="3.2" fill="#000"/>
<rect x="412.3" y="1073" width="206.3" height="3.2" fill="#000"/>
<text x="264.7" y="1095.5" font-size="19" text-anchor="middle">2 hr</text>
<text x="515.5" y="1095.5" font-size="19" text-anchor="middle">4 hr</text>
<line x1="201.3" y1="821.5" x2="201.3" y2="878.7" stroke="#000" stroke-width="3"/>
<line x1="190.3" y1="821.5" x2="212.3" y2="821.5" stroke="#000" stroke-width="3"/>
<line x1="190.3" y1="878.7" x2="212.3" y2="878.7" stroke="#000" stroke-width="3"/>
<line x1="326.8" y1="1025.4" x2="326.8" y2="1031" stroke="#000" stroke-width="3"/>
<line x1="315.8" y1="1025.4" x2="337.8" y2="1025.4" stroke="#000" stroke-width="3"/>
<line x1="315.8" y1="1031" x2="337.8" y2="1031" stroke="#000" stroke-width="3"/>
<line x1="452.4" y1="856.8" x2="452.4" y2="874.6" stroke="#000" stroke-width="3"/>
<line x1="441.4" y1="856.8" x2="463.4" y2="856.8" stroke="#000" stroke-width="3"/>
<line x1="441.4" y1="874.6" x2="463.4" y2="874.6" stroke="#000" stroke-width="3"/>
<line x1="577.8" y1="966" x2="577.8" y2="976.7" stroke="#000" stroke-width="3"/>
<line x1="566.8" y1="966" x2="588.8" y2="966" stroke="#000" stroke-width="3"/>
<line x1="566.8" y1="976.7" x2="588.8" y2="976.7" stroke="#000" stroke-width="3"/>
<circle cx="201.3" cy="789.9" r="3.6" fill="#000"/>
<circle cx="201.3" cy="822" r="3.6" fill="#000"/>
<circle cx="201.3" cy="867.7" r="3.6" fill="#000"/>
<circle cx="201.3" cy="922.4" r="3.6" fill="#000"/>
<circle cx="314.2" cy="1024" r="3.6" fill="#000"/>
<circle cx="326.8" cy="1030" r="3.6" fill="#000"/>
<circle cx="339.4" cy="1030" r="3.6" fill="#000"/>
<circle cx="452.4" cy="840.7" r="3.6" fill="#000"/>
<circle cx="452.4" cy="865.4" r="3.6" fill="#000"/>
<circle cx="458.5" cy="873.4" r="3.6" fill="#000"/>
<circle cx="446.2" cy="882.6" r="3.6" fill="#000"/>
<circle cx="577.8" cy="956.3" r="3.6" fill="#000"/>
<circle cx="564.7" cy="973.3" r="3.6" fill="#000"/>
<circle cx="590.2" cy="973.3" r="3.6" fill="#000"/>
<circle cx="577.8" cy="980.8" r="3.6" fill="#000"/>
<polyline points="200.2,776.5 200.2,769.8 326.3,769.8 326.3,995" fill="none" stroke="#000" stroke-width="3"/>
<polyline points="451.8,828 451.8,821.6 577.8,821.6 577.8,929" fill="none" stroke="#000" stroke-width="3"/>
<polygon points="251.90,757.30 252.70,759.60 255.13,759.65 253.19,761.12 253.90,763.45 251.90,762.06 249.90,763.45 250.61,761.12 248.67,759.65 251.10,759.60" fill="#111"/>
<polygon points="260.00,757.30 260.80,759.60 263.23,759.65 261.29,761.12 262.00,763.45 260.00,762.06 258.00,763.45 258.71,761.12 256.77,759.65 259.20,759.60" fill="#111"/>
<polygon points="267.70,757.30 268.50,759.60 270.93,759.65 268.99,761.12 269.70,763.45 267.70,762.06 265.70,763.45 266.41,761.12 264.47,759.65 266.90,759.60" fill="#111"/>
<polygon points="275.40,757.30 276.20,759.60 278.63,759.65 276.69,761.12 277.40,763.45 275.40,762.06 273.40,763.45 274.11,761.12 272.17,759.65 274.60,759.60" fill="#111"/>
<polygon points="503.30,808.30 504.10,810.60 506.53,810.65 504.59,812.12 505.30,814.45 503.30,813.06 501.30,814.45 502.01,812.12 500.07,810.65 502.50,810.60" fill="#111"/>
<polygon points="511.00,808.30 511.80,810.60 514.23,810.65 512.29,812.12 513.00,814.45 511.00,813.06 509.00,814.45 509.71,812.12 507.77,810.65 510.20,810.60" fill="#111"/>
<polygon points="518.70,808.30 519.50,810.60 521.93,810.65 519.99,812.12 520.70,814.45 518.70,813.06 516.70,814.45 517.41,812.12 515.47,810.65 517.90,810.60" fill="#111"/>
<polygon points="526.40,808.30 527.20,810.60 529.63,810.65 527.69,812.12 528.40,814.45 526.40,813.06 524.40,814.45 525.11,812.12 523.17,810.65 525.60,810.60" fill="#111"/>
</svg></body></html>
